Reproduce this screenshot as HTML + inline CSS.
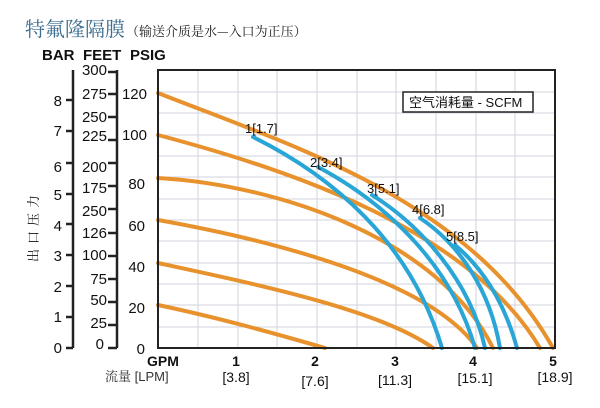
<!DOCTYPE html>
<html><head><meta charset="utf-8"><style>
body{margin:0;background:#fff;width:600px;height:408px;overflow:hidden}
svg{display:block}
text{font-family:"Liberation Sans","Noto Sans CJK SC",sans-serif;fill:#111}
</style></head><body>
<svg width="600" height="408" viewBox="0 0 600 408">
<text x="25" y="36" style="font-size:20px;fill:#3d6e8f;font-family:'Noto Serif CJK SC','Noto Sans CJK SC',serif">特氟隆隔膜</text>
<text x="126" y="36" style="font-size:13px;fill:#222;font-family:'Noto Serif CJK SC','Noto Sans CJK SC',serif">（输送介质是水—入口为正压）</text>
<text x="42" y="60" style="font-size:15px;font-weight:bold">BAR</text>
<text x="83" y="60" style="font-size:15px;font-weight:bold">FEET</text>
<text x="130" y="60" style="font-size:15px;font-weight:bold">PSIG</text>
<g stroke="#cfd3dc" stroke-width="1">
<line x1="198" y1="70" x2="198" y2="348"/><line x1="238" y1="70" x2="238" y2="348"/><line x1="277" y1="70" x2="277" y2="348"/><line x1="317" y1="70" x2="317" y2="348"/><line x1="357" y1="70" x2="357" y2="348"/><line x1="396" y1="70" x2="396" y2="348"/><line x1="436" y1="70" x2="436" y2="348"/><line x1="476" y1="70" x2="476" y2="348"/><line x1="515" y1="70" x2="515" y2="348"/>
<line x1="158" y1="92" x2="555" y2="92"/><line x1="158" y1="113" x2="555" y2="113"/><line x1="158" y1="135" x2="555" y2="135"/><line x1="158" y1="156" x2="555" y2="156"/><line x1="158" y1="177" x2="555" y2="177"/><line x1="158" y1="199" x2="555" y2="199"/><line x1="158" y1="220" x2="555" y2="220"/><line x1="158" y1="241" x2="555" y2="241"/><line x1="158" y1="263" x2="555" y2="263"/><line x1="158" y1="284" x2="555" y2="284"/><line x1="158" y1="305" x2="555" y2="305"/><line x1="158" y1="327" x2="555" y2="327"/>
</g>
<g fill="none" stroke="#e8922e" stroke-width="4" stroke-linecap="round">
<path d="M158,93 C290,145 470,200 553,348"/>
<path d="M158,135 C290,170 470,230 540,348"/>
<path d="M158,178 C280,185 440,240 493,348"/>
<path d="M158,220 C270,240 430,280 477,348"/>
<path d="M158,263 C260,285 380,310 433,348"/>
<path d="M158,305 C220,318 280,335 325,348"/>
</g>
<g fill="none" stroke="#2aa6d6" stroke-width="4" stroke-linecap="round">
<path d="M253,137 C330,175 410,240 442,348"/>
<path d="M318,167 C380,200 450,260 475,348"/>
<path d="M372,195 C420,225 470,280 485,348"/>
<path d="M420,218 C460,245 490,290 500,348"/>
<path d="M455,245 C485,270 505,305 517,348"/>
</g>
<rect x="158" y="70" width="397" height="278" fill="none" stroke="#222" stroke-width="2"/>
<rect x="403" y="92" width="130" height="20" fill="#fff" stroke="#222" stroke-width="1.5"/>
<text x="409" y="107" style="font-size:13px">空气消耗量 - SCFM</text>
<g style="font-size:13px">
<text x="245" y="133">1[1.7]</text><text x="310" y="167">2[3.4]</text><text x="367" y="193">3[5.1]</text><text x="412" y="214">4[6.8]</text><text x="446" y="241">5[8.5]</text>
</g>
<g stroke="#222" stroke-width="2.5" fill="none">
<line x1="73" y1="70" x2="73" y2="348"/>
<line x1="117" y1="70" x2="117" y2="348"/>
<line x1="66" y1="100" x2="73" y2="100"/><line x1="66" y1="131" x2="73" y2="131"/><line x1="66" y1="163" x2="73" y2="163"/><line x1="66" y1="194" x2="73" y2="194"/><line x1="66" y1="224" x2="73" y2="224"/><line x1="66" y1="255" x2="73" y2="255"/><line x1="66" y1="286" x2="73" y2="286"/><line x1="66" y1="317" x2="73" y2="317"/><line x1="66" y1="348" x2="73" y2="348"/>
<line x1="108" y1="72" x2="117" y2="72"/><line x1="108" y1="94" x2="117" y2="94"/><line x1="108" y1="117" x2="117" y2="117"/><line x1="108" y1="140" x2="117" y2="140"/><line x1="108" y1="163" x2="117" y2="163"/><line x1="108" y1="186" x2="117" y2="186"/><line x1="108" y1="209" x2="117" y2="209"/><line x1="108" y1="233" x2="117" y2="233"/><line x1="108" y1="256" x2="117" y2="256"/><line x1="108" y1="279" x2="117" y2="279"/><line x1="108" y1="302" x2="117" y2="302"/><line x1="108" y1="325" x2="117" y2="325"/><line x1="108" y1="348" x2="117" y2="348"/>
</g>
<g style="font-size:15px" text-anchor="end">
<text x="62" y="106">8</text><text x="62" y="136">7</text><text x="62" y="172">6</text><text x="62" y="200">5</text><text x="62" y="231">4</text><text x="62" y="261">3</text><text x="62" y="292">2</text><text x="62" y="322">1</text><text x="62" y="353">0</text>
<text x="107" y="75">300</text><text x="107" y="99">275</text><text x="107" y="122">250</text><text x="107" y="141">225</text><text x="107" y="172">200</text><text x="107" y="193">175</text><text x="107" y="216">250</text><text x="107" y="238">126</text><text x="107" y="260">100</text><text x="107" y="284">75</text><text x="107" y="305">50</text><text x="107" y="328">25</text><text x="104" y="349">0</text>
<text x="147" y="99">120</text><text x="147" y="140">100</text><text x="145" y="189">80</text><text x="145" y="231">60</text><text x="145" y="272">40</text><text x="145" y="313">20</text><text x="145" y="354">0</text>
</g>
<text transform="translate(38,262) rotate(-90)" style="font-size:13px;letter-spacing:5px;font-family:'Noto Serif CJK SC','Noto Sans CJK SC',serif">出口压力</text>
<g style="font-size:14px;font-weight:bold" text-anchor="middle">
<text x="163" y="366">GPM</text><text x="236" y="366">1</text><text x="315" y="366">2</text><text x="395" y="366">3</text><text x="473" y="366">4</text><text x="553" y="366">5</text>
</g>
<g style="font-size:14px" text-anchor="middle">
<text x="236" y="382">[3.8]</text><text x="315" y="386">[7.6]</text><text x="395" y="385">[11.3]</text><text x="475" y="383">[15.1]</text><text x="555" y="382">[18.9]</text>
</g>
<text x="105" y="381" style="font-size:13px;fill:#333"><tspan style="font-family:'Noto Serif CJK SC','Noto Sans CJK SC',serif">流量</tspan> [LPM]</text>
</svg>
</body></html>
